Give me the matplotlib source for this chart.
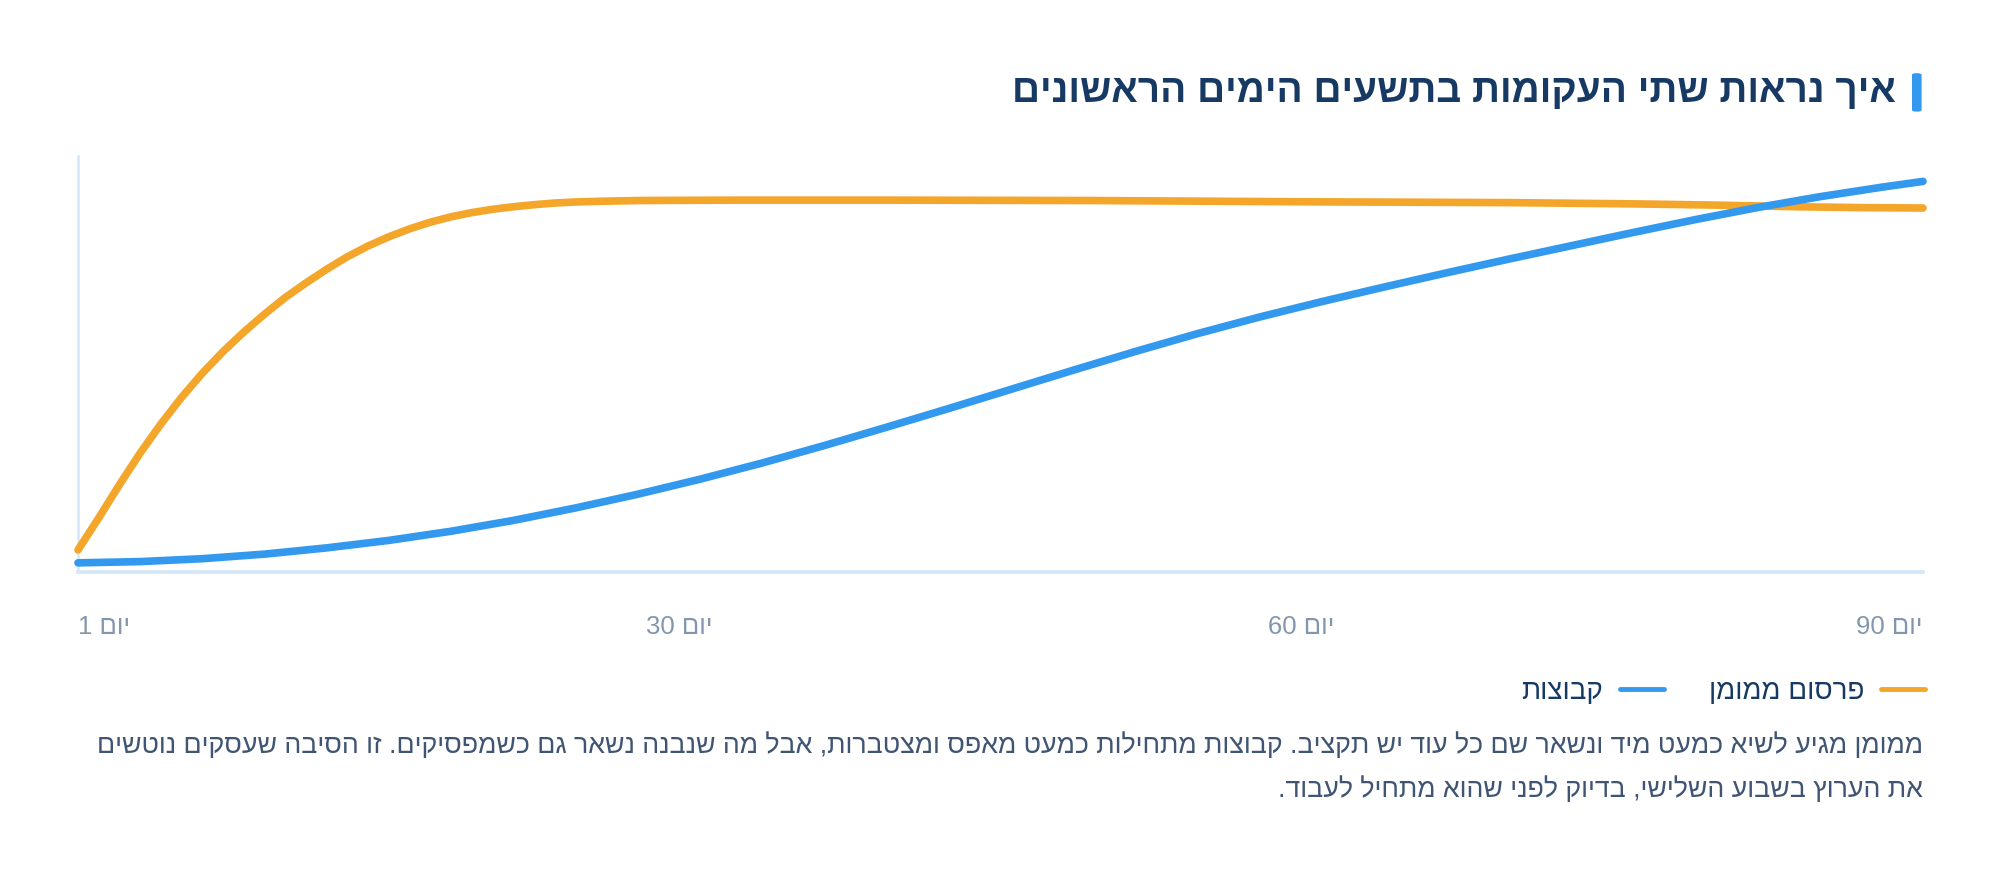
import re
import numpy as np
import matplotlib
matplotlib.use("Agg")
import matplotlib.pyplot as plt
from matplotlib.lines import Line2D
from matplotlib.patches import FancyBboxPatch

plt.rcParams['font.family'] = ['Liberation Sans', 'DejaVu Sans']


def rtl(s):
    # matplotlib has no bidi: reverse the string, keep digit runs in order
    r = s[::-1]
    return re.sub(r'[0-9]+', lambda m: m.group(0)[::-1], r)


title = "איך נראות שתי העקומות בתשעים הימים הראשונים"
caption_lines = [
    "ממומן מגיע לשיא כמעט מיד ונשאר שם כל עוד יש תקציב. קבוצות מתחילות כמעט מאפס ומצטברות, אבל מה שנבנה נשאר גם כשמפסיקים. זו הסיבה שעסקים נוטשים",
    "את הערוץ בשבוע השלישי, בדיוק לפני שהוא מתחיל לעבוד.",
]
series_names = ["פרסום ממומן", "קבוצות"]
tick_days = [1, 30, 60, 90]
tick_labels = ["יום 1", "יום 30", "יום 60", "יום 90"]

paid_days = [1, 2, 3, 4, 5, 6, 7, 8, 9, 10, 11, 12, 13, 14, 15, 16, 17, 18, 19, 20,
             21, 22, 23, 24, 25, 26, 27, 28, 30, 33, 40, 50, 60, 70, 76, 80, 84, 87, 90]
paid_vals = [5.3, 13.0, 21.0, 28.6, 35.6, 42.0, 47.8, 53.0, 57.7, 62.0, 66.0, 69.5,
             72.8, 75.8, 78.4, 80.6, 82.5, 84.1, 85.4, 86.4, 87.2, 87.8, 88.3, 88.7,
             88.95, 89.1, 89.2, 89.3, 89.35, 89.4, 89.4, 89.3, 89.0, 88.8, 88.5, 88.2,
             87.8, 87.6, 87.5]

group_days = [1, 4, 7, 10, 13, 16, 19, 22, 25, 28, 31, 34, 37, 40, 43, 46, 49, 52, 55,
              58, 61, 64, 67, 70, 73, 76, 79, 82, 85, 88, 90]
group_vals = [2.2, 2.5, 3.2, 4.3, 5.8, 7.6, 9.8, 12.4, 15.4, 18.7, 22.3, 26.2, 30.4,
              34.8, 39.3, 43.9, 48.5, 53.0, 57.3, 61.3, 65.0, 68.5, 71.9, 75.2, 78.4,
              81.6, 84.7, 87.6, 90.2, 92.5, 93.9]

ORANGE = "#f4a62a"
BLUE = "#3399ee"
NAVY = "#163a63"
AXIS = "#d3e7f8"
TICK = "#8297ad"
BODY = "#3f5573"

fig = plt.figure(figsize=(20, 8.8), dpi=100)
ax = fig.add_axes([0.039, 0.35, 0.9225, 0.4727])

ax.plot(paid_days, paid_vals, color=ORANGE, lw=5.5, solid_capstyle='round',
        solid_joinstyle='round', clip_on=False, zorder=3)
ax.plot(group_days, group_vals, color=BLUE, lw=5.5, solid_capstyle='round',
        solid_joinstyle='round', clip_on=False, zorder=3)

ax.set_xlim(1, 90)
ax.set_ylim(0, 100)
for side in ['top', 'right']:
    ax.spines[side].set_visible(False)
ax.spines['left'].set_color(AXIS)
ax.spines['left'].set_linewidth(1.8)
ax.spines['bottom'].set_color(AXIS)
ax.spines['bottom'].set_linewidth(2.6)
ax.set_yticks([])
ax.set_xticks(tick_days)
ax.set_xticklabels([rtl(t) for t in tick_labels], fontsize=18.5, color=TICK)
ax.tick_params(axis='x', length=0, pad=31)
labels = ax.get_xticklabels()
labels[0].set_ha('left')
labels[-1].set_ha('right')

# title with accent bar
fig.text(0.948, 0.895, rtl(title), ha='right', va='center', fontsize=28,
         fontweight='bold', color=NAVY)
fig.patches.append(FancyBboxPatch((0.9578, 0.875), 0.0012, 0.04,
                                  boxstyle="round,pad=0.0018", transform=fig.transFigure,
                                  facecolor=BLUE, edgecolor='none'))

# legend (right to left)
handles = [Line2D([], [], color=BLUE, lw=3.5, solid_capstyle='round'),
           Line2D([], [], color=ORANGE, lw=3.5, solid_capstyle='round')]
fig.legend(handles, [rtl(series_names[1]), rtl(series_names[0])], ncol=2,
           markerfirst=False, loc='center right', bbox_to_anchor=(0.9625, 0.2136),
           frameon=False, fontsize=20, labelcolor=NAVY, handlelength=1.6,
           handletextpad=0.6, columnspacing=1.6, borderpad=0, borderaxespad=0)

# caption
for i, line in enumerate(caption_lines):
    fig.text(0.9615, 0.153 - i * 0.05, rtl(line), ha='right', va='center',
             fontsize=19.3, color=BODY)

fig.savefig("out.png", dpi=100, facecolor='white')
